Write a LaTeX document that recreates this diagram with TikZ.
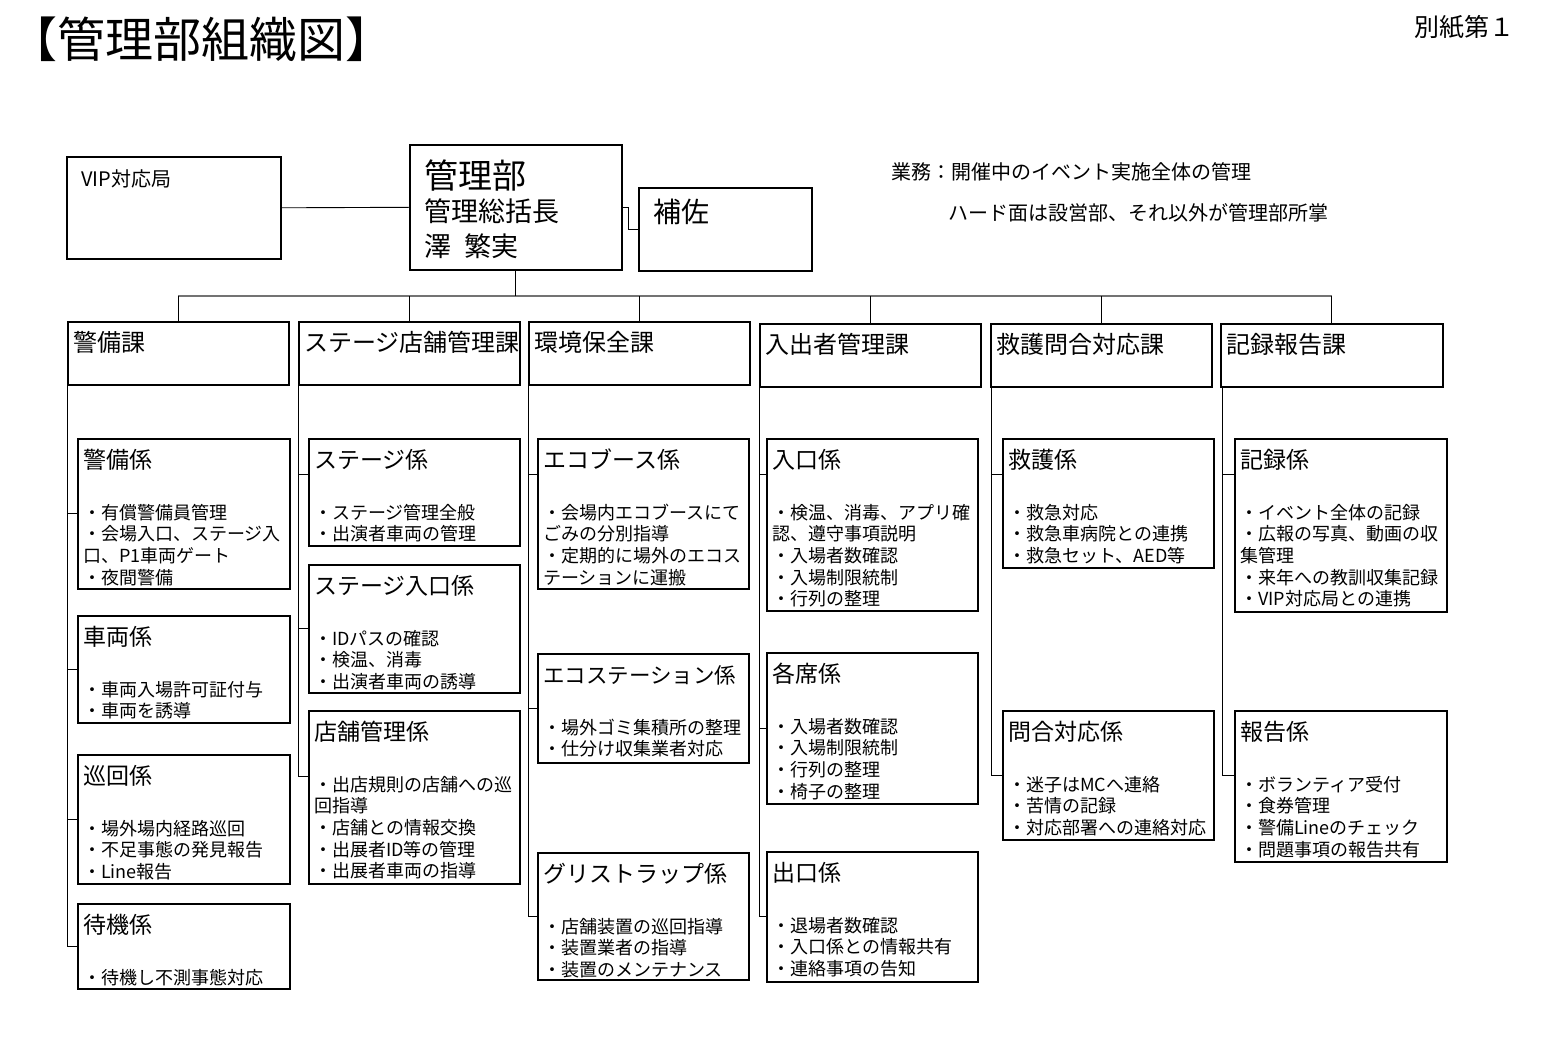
\documentclass[tikz,border=0pt]{standalone}
\usepackage{fontspec}
\setmainfont{Noto Sans CJK JP}
\newcommand\kkbox[7]{%
  \node[kbox, minimum width=#4pt, minimum height=#5pt] (#1) at (#2,#3) {};
  \node[ktitle] (#1t) at (#2+6,#3+30) {#6};
  \node[kitems] (#1i) at (#2+6,#3+81) {#7};}
\newcommand\kabox[5]{%
  \node[kbox, minimum width=#4pt, minimum height=63pt] (#1) at (#2,#3) {};
  \node[katitle] (#1t) at (#2+6,#3+31) {#5};}
\begin{document}
\begin{tikzpicture}[x=1pt,y=-1pt,
  kbox/.style={draw, line width=1.6pt, inner sep=0pt, anchor=north west, rectangle},
  ktitle/.style={anchor=base west, inner sep=0pt, font=\fontsize{23pt}{28pt}\selectfont},
  katitle/.style={anchor=base west, inner sep=0pt, font=\fontsize{24pt}{29pt}\selectfont},
  kitems/.style={anchor=base west, inner sep=0pt, text width=212pt, align=left, font=\fontsize{18pt}{21.7pt}\selectfont},
  plain/.style={anchor=base west, inner sep=0pt},
  conn/.style={line width=0.9pt},
  bus/.style={line width=1.2pt, draw=black!55}]
\fill[white] (0,0) rectangle (1550,1064);
\useasboundingbox (0,0) rectangle (1550,1064);

% headings
\node[plain, font=\fontsize{48pt}{52pt}\selectfont] (title) at (9,58) {【管理部組織図】};
\node[plain, font=\fontsize{25pt}{30pt}\selectfont] (bessi) at (1414,37) {別紙第１};
\node[plain, font=\fontsize{20pt}{24pt}\selectfont] (gyomu) at (891,180) {業務：開催中のイベント実施全体の管理};
\node[plain, font=\fontsize{20pt}{24pt}\selectfont] (hard) at (948,221) {ハード面は設営部、それ以外が管理部所掌};

% top boxes
\node[kbox, minimum width=214pt, minimum height=102pt] (vip) at (66,156) {};
\node[plain, font=\fontsize{20pt}{24pt}\selectfont] (vipt) at (81,187) {VIP対応局};
\node[kbox, minimum width=212pt, minimum height=125pt] (bu) at (409,144) {};
\node[plain, font=\fontsize{34pt}{40pt}\selectfont] (bu1) at (424,189) {管理部};
\node[plain, font=\fontsize{27pt}{32pt}\selectfont] (bu2) at (424,222) {管理総括長};
\node[plain, font=\fontsize{27pt}{32pt}\selectfont] (bu3) at (424,257) {澤\hspace{13pt}繁実};
\node[kbox, minimum width=173pt, minimum height=83pt] (hs) at (638,187) {};
\node[plain, font=\fontsize{28pt}{32pt}\selectfont] (hst) at (653,223) {補佐};

\draw[conn] (vip.east) -- (bu.west);
\draw[conn] (bu.east) -- ++(6,0) |- (hs.west);

% sections
\kabox{ka1}{67}{321}{221}{警備課}
\kabox{ka2}{298}{321}{221}{ステージ店舗管理課}
\kabox{ka3}{528}{321}{221}{環境保全課}
\kabox{ka4}{759}{323}{221}{入出者管理課}
\kabox{ka5}{990}{323}{221}{救護問合対応課}
\kabox{ka6}{1220}{323}{222}{記録報告課}

\coordinate (busy) at (0,296);
\draw[bus] (ka1.north |- busy) -- (ka6.north |- busy);
\draw[conn] (bu.south) -- (bu.south |- busy);
\foreach \k in {ka1,ka2,ka3,ka4,ka5,ka6}{
  \draw[conn] (\k.north) -- (\k.north |- busy);
}

% column 1
\kkbox{b11}{77}{438}{212}{150}{警備係}{・有償警備員管理\\・会場入口、ステージ入\\口、P1車両ゲート\\・夜間警備}
\kkbox{b12}{77}{615}{212}{107}{車両係}{・車両入場許可証付与\\・車両を誘導}
\kkbox{b13}{77}{754}{212}{129}{巡回係}{・場外場内経路巡回\\・不足事態の発見報告\\・Line報告}
\kkbox{b14}{77}{903}{212}{85}{待機係}{・待機し不測事態対応}
% column 2
\kkbox{b21}{308}{438}{211}{107}{ステージ係}{・ステージ管理全般\\・出演者車両の管理}
\kkbox{b22}{308}{564}{211}{128}{ステージ入口係}{・IDパスの確認\\・検温、消毒\\・出演者車両の誘導}
\kkbox{b23}{308}{710}{211}{173}{店舗管理係}{・出店規則の店舗への巡\\回指導\\・店舗との情報交換\\・出展者ID等の管理\\・出展者車両の指導}
% column 3
\kkbox{b31}{537}{438}{211}{150}{エコブース係}{・会場内エコブースにて\\ごみの分別指導\\・定期的に場外のエコス\\テーションに運搬}
\kkbox{b32}{537}{653}{211}{109}{\fontsize{21.5pt}{26pt}\selectfont エコステーション係}{・場外ゴミ集積所の整理\\・仕分け収集業者対応}
\kkbox{b33}{537}{852}{211}{127}{グリストラップ係}{・店舗装置の巡回指導\\・装置業者の指導\\・装置のメンテナンス}
% column 4
\kkbox{b41}{766}{438}{211}{172}{入口係}{・検温、消毒、アプリ確\\認、遵守事項説明\\・入場者数確認\\・入場制限統制\\・行列の整理}
\kkbox{b42}{766}{652}{211}{151}{各席係}{・入場者数確認\\・入場制限統制\\・行列の整理\\・椅子の整理}
\kkbox{b43}{766}{851}{211}{130}{出口係}{・退場者数確認\\・入口係との情報共有\\・連絡事項の告知}
% column 5
\kkbox{b51}{1002}{438}{211}{129}{救護係}{・救急対応\\・救急車病院との連携\\・救急セット、AED等}
\kkbox{b52}{1002}{710}{211}{129}{問合対応係}{・迷子はMCへ連絡\\・苦情の記録\\・対応部署への連絡対応}
% column 6
\kkbox{b61}{1234}{438}{212}{173}{記録係}{・イベント全体の記録\\・広報の写真、動画の収\\集管理\\・来年への教訓収集記録\\・VIP対応局との連携}
\kkbox{b62}{1234}{710}{212}{151}{報告係}{・ボランティア受付\\・食券管理\\・警備Lineのチェック\\・問題事項の報告共有}

% branch connectors
\draw[conn] (ka1.south west) |- (b14.west);
\draw[conn] (ka1.south west |- b11.west) -- (b11.west);
\draw[conn] (ka1.south west |- b12.west) -- (b12.west);
\draw[conn] (ka1.south west |- b13.west) -- (b13.west);

\coordinate (c21) at ([yshift=-36pt]b21.north west);
\coordinate (c23) at ([yshift=-66pt]b23.north west);
\draw[conn] (ka2.south west) |- (c23);
\draw[conn] (ka2.south west |- c21) -- (c21);
\draw[conn] (ka2.south west |- b22.west) -- (b22.west);

\coordinate (c31) at ([yshift=-36pt]b31.north west);
\draw[conn] (ka3.south west) |- (b33.west);
\draw[conn] (ka3.south west |- c31) -- (c31);
\draw[conn] (ka3.south west |- b32.west) -- (b32.west);

\coordinate (c41) at ([yshift=-36pt]b41.north west);
\draw[conn] (ka4.south west) |- (b43.west);
\draw[conn] (ka4.south west |- c41) -- (c41);
\draw[conn] (ka4.south west |- b42.west) -- (b42.west);

\coordinate (c51) at ([yshift=-36pt]b51.north west);
\draw[conn] ([xshift=1pt]ka5.south west) |- (b52.west);
\draw[conn] ([xshift=1pt]ka5.south west |- c51) -- (c51);

\coordinate (c61) at ([yshift=-36pt]b61.north west);
\coordinate (c62) at ([yshift=-65pt]b62.north west);
\draw[conn] ([xshift=2pt]ka6.south west) |- (c62);
\draw[conn] ([xshift=2pt]ka6.south west |- c61) -- (c61);
\end{tikzpicture}
\end{document}
